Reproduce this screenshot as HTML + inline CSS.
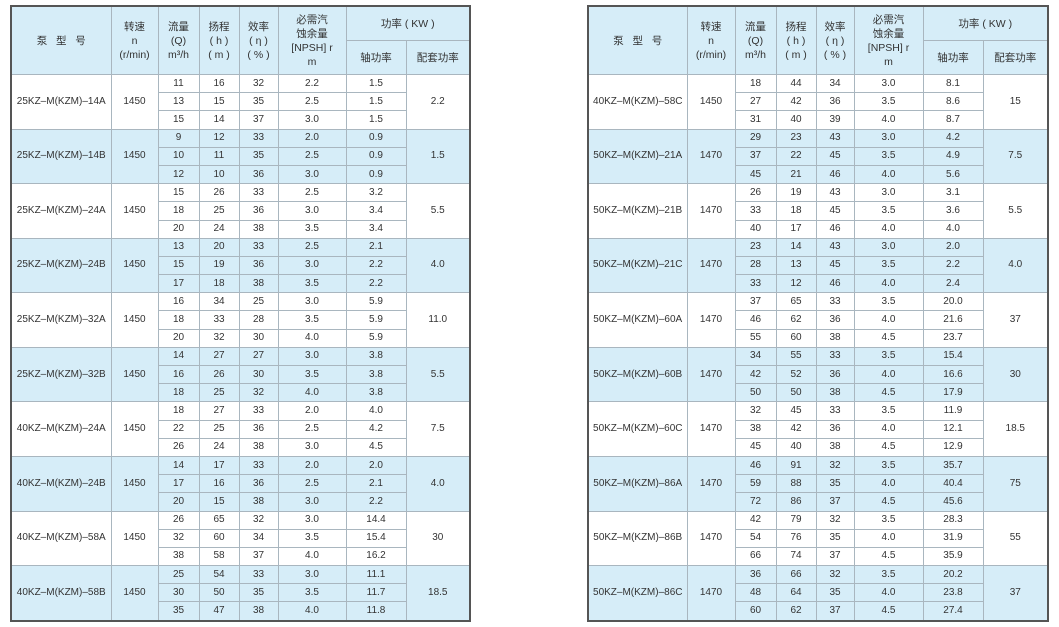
<!DOCTYPE html>
<html><head><meta charset="utf-8"><style>
html,body{margin:0;padding:0;background:#fff;width:1059px;height:627px;overflow:hidden}
table{position:absolute;border-collapse:collapse;table-layout:fixed;border:2px solid #555;font-family:"Liberation Sans","Noto Sans CJK SC",sans-serif;font-size:10px;color:#333}
td{border:1px solid #a9b6bf;text-align:center;padding:0;line-height:12px;overflow:hidden}
tr.d td{height:17.2px}
.h td{background:#d6edf8;height:33px;font-size:10.5px;line-height:14px}
.b td{background:#d6edf8}
</style></head><body>
<table id="L" style="left:10px;top:5px;width:461px"></table>
<table id="R" style="left:587px;top:5px;width:461px"></table>
<script>
function build(id,widths,data){
 var t=document.getElementById(id),h='<colgroup>'+widths.map(w=>'<col style="width:'+w+'px">').join('')+'</colgroup>';
 h+='<tr class="h"><td rowspan="2">泵&nbsp;&nbsp;&nbsp;型&nbsp;&nbsp;&nbsp;号</td><td rowspan="2">转速<br>n<br>(r/min)</td><td rowspan="2">流量<br>(Q)<br>m³/h</td><td rowspan="2">扬程<br>( h )<br>( m )</td><td rowspan="2">效率<br>( η )<br>( % )</td><td rowspan="2">必需汽<br>蚀余量<br>[NPSH] r<br>m</td><td colspan="2">功率 ( KW )</td></tr><tr class="h"><td>轴功率</td><td>配套功率</td></tr>';
 data.forEach(function(g,i){
  var c=i%2?' b':'';
  for(var r=0;r<3;r++){
   h+='<tr class="d'+c+'">';
   if(r==0)h+='<td rowspan="3">'+g[0]+'</td><td rowspan="3">'+g[1]+'</td>';
   h+='<td>'+g[2][r][0]+'</td><td>'+g[2][r][1]+'</td><td>'+g[2][r][2]+'</td><td>'+g[2][r][3]+'</td><td>'+g[2][r][4]+'</td>';
   if(r==0)h+='<td rowspan="3">'+g[3]+'</td>';
   h+='</tr>';
  }
 });
 t.innerHTML=h;
}
build('L',[100,47,41,40,39,68,60,64],[
['25KZ–M(KZM)–14A',1450,[[11,16,32,'2.2','1.5'],[13,15,35,'2.5','1.5'],[15,14,37,'3.0','1.5']],'2.2'],
['25KZ–M(KZM)–14B',1450,[[9,12,33,'2.0','0.9'],[10,11,35,'2.5','0.9'],[12,10,36,'3.0','0.9']],'1.5'],
['25KZ–M(KZM)–24A',1450,[[15,26,33,'2.5','3.2'],[18,25,36,'3.0','3.4'],[20,24,38,'3.5','3.4']],'5.5'],
['25KZ–M(KZM)–24B',1450,[[13,20,33,'2.5','2.1'],[15,19,36,'3.0','2.2'],[17,18,38,'3.5','2.2']],'4.0'],
['25KZ–M(KZM)–32A',1450,[[16,34,25,'3.0','5.9'],[18,33,28,'3.5','5.9'],[20,32,30,'4.0','5.9']],'11.0'],
['25KZ–M(KZM)–32B',1450,[[14,27,27,'3.0','3.8'],[16,26,30,'3.5','3.8'],[18,25,32,'4.0','3.8']],'5.5'],
['40KZ–M(KZM)–24A',1450,[[18,27,33,'2.0','4.0'],[22,25,36,'2.5','4.2'],[26,24,38,'3.0','4.5']],'7.5'],
['40KZ–M(KZM)–24B',1450,[[14,17,33,'2.0','2.0'],[17,16,36,'2.5','2.1'],[20,15,38,'3.0','2.2']],'4.0'],
['40KZ–M(KZM)–58A',1450,[[26,65,32,'3.0','14.4'],[32,60,34,'3.5','15.4'],[38,58,37,'4.0','16.2']],'30'],
['40KZ–M(KZM)–58B',1450,[[25,54,33,'3.0','11.1'],[30,50,35,'3.5','11.7'],[35,47,38,'4.0','11.8']],'18.5']]);
build('R',[99,48,41,40,38,69,60,65],[
['40KZ–M(KZM)–58C',1450,[[18,44,34,'3.0','8.1'],[27,42,36,'3.5','8.6'],[31,40,39,'4.0','8.7']],'15'],
['50KZ–M(KZM)–21A',1470,[[29,23,43,'3.0','4.2'],[37,22,45,'3.5','4.9'],[45,21,46,'4.0','5.6']],'7.5'],
['50KZ–M(KZM)–21B',1470,[[26,19,43,'3.0','3.1'],[33,18,45,'3.5','3.6'],[40,17,46,'4.0','4.0']],'5.5'],
['50KZ–M(KZM)–21C',1470,[[23,14,43,'3.0','2.0'],[28,13,45,'3.5','2.2'],[33,12,46,'4.0','2.4']],'4.0'],
['50KZ–M(KZM)–60A',1470,[[37,65,33,'3.5','20.0'],[46,62,36,'4.0','21.6'],[55,60,38,'4.5','23.7']],'37'],
['50KZ–M(KZM)–60B',1470,[[34,55,33,'3.5','15.4'],[42,52,36,'4.0','16.6'],[50,50,38,'4.5','17.9']],'30'],
['50KZ–M(KZM)–60C',1470,[[32,45,33,'3.5','11.9'],[38,42,36,'4.0','12.1'],[45,40,38,'4.5','12.9']],'18.5'],
['50KZ–M(KZM)–86A',1470,[[46,91,32,'3.5','35.7'],[59,88,35,'4.0','40.4'],[72,86,37,'4.5','45.6']],'75'],
['50KZ–M(KZM)–86B',1470,[[42,79,32,'3.5','28.3'],[54,76,35,'4.0','31.9'],[66,74,37,'4.5','35.9']],'55'],
['50KZ–M(KZM)–86C',1470,[[36,66,32,'3.5','20.2'],[48,64,35,'4.0','23.8'],[60,62,37,'4.5','27.4']],'37']]);
</script>
</body></html>
